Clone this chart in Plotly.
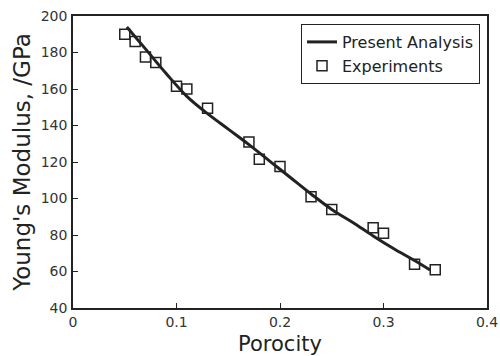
import plotly.graph_objects as go

# Experimental data
exp_porosity = [0.05, 0.06, 0.07, 0.08, 0.10, 0.11, 0.13, 0.17, 0.18, 0.20, 0.23, 0.25, 0.29, 0.30, 0.33, 0.35]
exp_modulus = [190, 186, 177.5, 174.5, 161.5, 160, 149.5, 131, 121.5, 117.5, 101, 94, 84, 81, 64, 61]

# Present analysis curve
ana_porosity = [0.052, 0.07, 0.09, 0.11, 0.13, 0.15, 0.17, 0.19, 0.21, 0.23, 0.25, 0.27, 0.29, 0.31, 0.33, 0.345]
ana_modulus = [194, 182, 168.5, 156, 146.5, 138, 129.5, 120.5, 111.5, 102.5, 94, 87, 79.5, 72.5, 66, 60.8]

x_ticks = [0, 0.1, 0.2, 0.3, 0.4]
x_ticklabels = ["0", "0.1", "0.2", "0.3", "0.4"]
y_ticks = [40, 60, 80, 100, 120, 140, 160, 180, 200]

FONT = "DejaVu Sans"
INK = "#222222"
TICKINK = "#333333"

W, H = 500, 356

fig = go.Figure()
fig.add_trace(go.Scatter(
    x=ana_porosity, y=ana_modulus, mode="lines", name="Present Analysis",
    line=dict(color=INK, width=3, shape="spline"),
))
fig.add_trace(go.Scatter(
    x=exp_porosity, y=exp_modulus, mode="markers", name="Experiments",
    marker=dict(symbol="square-open", size=10, color=INK, line=dict(width=1.5, color=INK)),
))

fig.update_layout(
    width=W, height=H,
    margin=dict(l=73, r=13, t=16, b=48),
    paper_bgcolor="white", plot_bgcolor="white",
    font=dict(family=FONT, color=INK, size=14),
    showlegend=True,
    legend=dict(
        x=(301 - 73) / 414, y=(308 - 24) / 292, xanchor="left", yanchor="top",
        bordercolor=INK, borderwidth=1, bgcolor="white",
        font=dict(family=FONT, size=16, color=INK),
        itemwidth=30, tracegroupgap=0,
    ),
    xaxis=dict(
        range=[0, 0.4], tickvals=x_ticks, ticktext=x_ticklabels,
        ticks="inside", ticklen=5, tickwidth=1, tickcolor=INK,
        showline=True, linecolor=INK, linewidth=1.5, mirror=True,
        showgrid=False, zeroline=False, automargin=False,
        tickfont=dict(size=14, family=FONT, color=TICKINK),
        ticklabelstandoff=0, ticklabeloverflow="allow",
        title=dict(text="Porocity", font=dict(size=21, family=FONT), standoff=13),
    ),
    yaxis=dict(
        range=[40, 200], tickvals=y_ticks,
        ticks="inside", ticklen=5, tickwidth=1, tickcolor=INK,
        showline=True, linecolor=INK, linewidth=1.5, mirror=True,
        showgrid=False, zeroline=False, automargin=False,
        tickfont=dict(size=14, family=FONT, color=TICKINK),
        ticklabelstandoff=1, ticklabeloverflow="allow",
        title=dict(text="Young's Modulus, /GPa", font=dict(size=23, family=FONT), standoff=4),
    ),
)

# remove the default 8px page margin so the figure sits at the window corner
fig.write_html(
    "out.html",
    config={"displayModeBar": False},
    post_script="document.body.style.margin='0';",
)
